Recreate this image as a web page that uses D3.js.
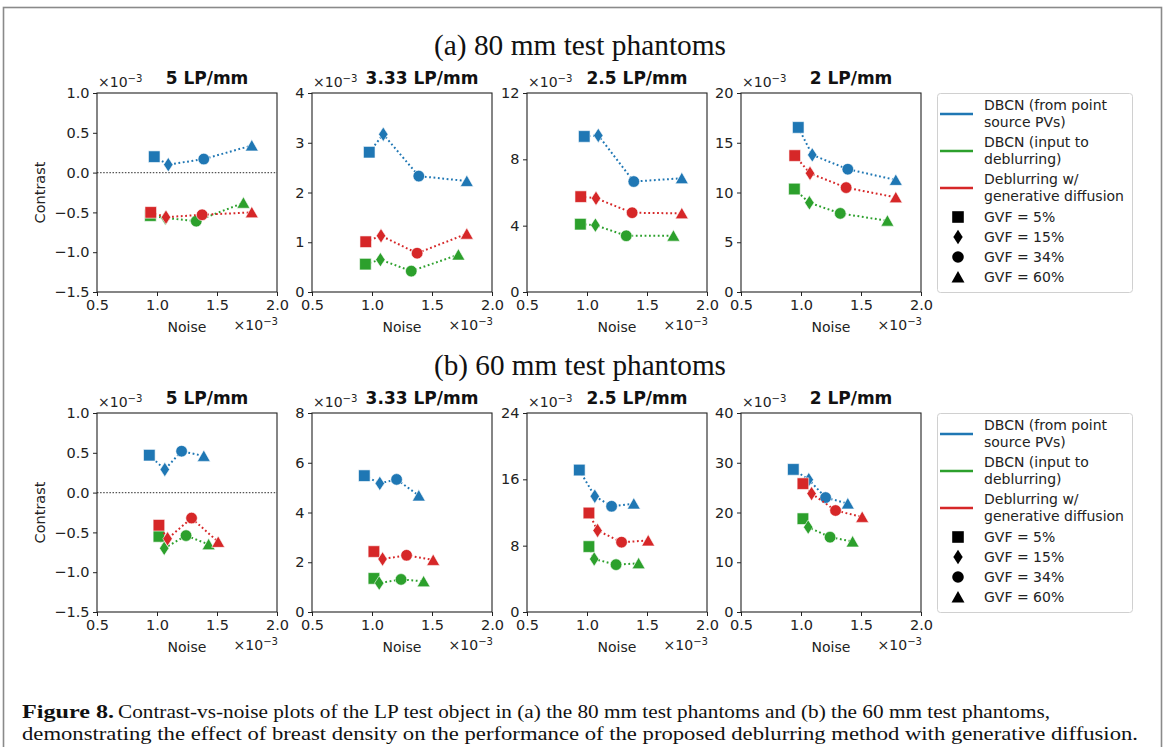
<!DOCTYPE html>
<html>
<head>
<meta charset="utf-8">
<script src="https://cdn.jsdelivr.net/npm/d3@7"></script>
<style>
  html, body { margin: 0; padding: 0; background: #fff; }
  svg { display: block; }
</style>
</head>
<body>
<svg id="fig" width="1166" height="747"></svg>
<script>
// ---- Data (contrast and noise in units of 1e-3) ----
const lpLabels = ["5 LP/mm", "3.33 LP/mm", "2.5 LP/mm", "2 LP/mm"];
const phantomTitles = ["(a) 80 mm test phantoms", "(b) 60 mm test phantoms"];
const methodNames = [
  ["DBCN (from point", "source PVs)"],
  ["DBCN (input to", "deblurring)"],
  ["Deblurring w/", "generative diffusion"]
];
const methodColors = ["#1f77b4", "#2ca02c", "#d62728"];
const gvfLabels = ["GVF = 5%", "GVF = 15%", "GVF = 34%", "GVF = 60%"];
const gvfShapes = ["square", "diamond", "circle", "triangle"];

// noise per method (blue, green, red) and GVF
const noise80Blue  = [0.977, 1.094, 1.390, 1.790];
const noise80Green = [0.945, 1.070, 1.327, 1.720];
const noise80Red   = [0.948, 1.075, 1.376, 1.790];
const noise60Blue  = [0.936, 1.065, 1.205, 1.390];
const noise60Green = [1.016, 1.060, 1.242, 1.430];
const noise60Red   = [1.016, 1.088, 1.288, 1.510];

// contrast, 80 mm phantoms
const c80_5LP    = { blue: [0.20, 0.10, 0.17, 0.34],   green: [-0.54, -0.57, -0.61, -0.38], red: [-0.50, -0.56, -0.53, -0.50] };
const c80_333LP  = { blue: [2.81, 3.17, 2.33, 2.23],   green: [0.56, 0.65, 0.42, 0.75],     red: [1.01, 1.13, 0.78, 1.17] };
const c80_25LP   = { blue: [9.38, 9.44, 6.66, 6.86],   green: [4.09, 4.03, 3.39, 3.39],     red: [5.75, 5.65, 4.78, 4.74] };
const c80_2LP    = { blue: [16.54, 13.78, 12.34, 11.26], green: [10.35, 8.97, 7.90, 7.16], red: [13.71, 11.93, 10.49, 9.51] };
// contrast, 60 mm phantoms
const c60_5LP    = { blue: [0.47, 0.29, 0.52, 0.46],   green: [-0.55, -0.70, -0.54, -0.65], red: [-0.41, -0.58, -0.32, -0.62] };
const c60_333LP  = { blue: [5.48, 5.17, 5.33, 4.68],   green: [1.35, 1.16, 1.31, 1.23],     red: [2.43, 2.13, 2.28, 2.09] };
const c60_25LP   = { blue: [17.12, 13.96, 12.75, 13.07], green: [7.89, 6.39, 5.71, 5.87],   red: [11.94, 9.83, 8.42, 8.62] };
const c60_2LP    = { blue: [28.66, 26.6, 23.0, 21.8],  green: [18.75, 17.06, 15.04, 14.16], red: [25.8, 23.8, 20.4, 19.1] };

const xTicks = [0.5, 1.0, 1.5, 2.0];
const yDomains80 = [[-1.5, 1.0], [0, 4], [0, 12], [0, 20]];
const yDomains60 = [[-1.5, 1.0], [0, 8], [0, 24], [0, 40]];
const yTicks80 = [[-1.5, -1.0, -0.5, 0.0, 0.5, 1.0], [0, 1, 2, 3, 4], [0, 4, 8, 12], [0, 5, 10, 15, 20]];
const yTicks60 = [[-1.5, -1.0, -0.5, 0.0, 0.5, 1.0], [0, 2, 4, 6, 8], [0, 8, 16, 24], [0, 10, 20, 30, 40]];

const captionBold = "Figure 8.";
const captionLine1 = "Contrast-vs-noise plots of the LP test object in (a) the 80 mm test phantoms and (b) the 60 mm test phantoms,";
const captionLine2 = "demonstrating the effect of breast density on the performance of the proposed deblurring method with generative diffusion.";

// ---- Layout ----
const rows = [
  { title: phantomTitles[0], top: 93, noise: [noise80Blue, noise80Green, noise80Red],
    panels: [c80_5LP, c80_333LP, c80_25LP, c80_2LP], domains: yDomains80, ticks: yTicks80 },
  { title: phantomTitles[1], top: 413, noise: [noise60Blue, noise60Green, noise60Red],
    panels: [c60_5LP, c60_333LP, c60_25LP, c60_2LP], domains: yDomains60, ticks: yTicks60 }
];
const panelLefts = [97, 312, 527, 741];
const panelW = 180, panelH = 199;
const sans = "'DejaVu Sans', sans-serif";
const serif = "'Liberation Serif', 'Times New Roman', serif";

const svg = d3.select("#fig");
svg.append("rect").attr("x", 0).attr("y", 0).attr("width", 1166).attr("height", 747).attr("fill", "#fff");
// figure frame
svg.append("rect").attr("x", 3.5).attr("y", 7.5).attr("width", 1158).attr("height", 780)
  .attr("fill", "none").attr("stroke", "#8a8a8a").attr("stroke-width", 1.6);

function markerPath(shape) {
  const p = d3.path();
  if (shape === "square") { p.rect(-5.8, -5.8, 11.6, 11.6); }
  else if (shape === "diamond") { p.moveTo(0, -7.2); p.lineTo(4.7, 0); p.lineTo(0, 7.2); p.lineTo(-4.7, 0); p.closePath(); }
  else if (shape === "circle") { p.arc(0, 0, 5.8, 0, 2 * Math.PI); p.closePath(); }
  else { p.moveTo(0, -6); p.lineTo(6.5, 5.4); p.lineTo(-6.5, 5.4); p.closePath(); }
  return p.toString();
}

function superTimes(sel) {
  sel.append("tspan").text("×10");
  sel.append("tspan").attr("font-size", "0.72em").attr("dy", "-0.48em").text("−3");
}

rows.forEach(row => {
  svg.append("text")
    .attr("x", 580).attr("y", row.top - 38)
    .attr("text-anchor", "middle")
    .attr("font-family", serif).attr("font-size", 29)
    .attr("textLength", 292).attr("lengthAdjust", "spacingAndGlyphs")
    .attr("fill", "#111")
    .text(row.title);

  row.panels.forEach((vals, pi) => {
    const left = panelLefts[pi], top = row.top;
    const x = d3.scaleLinear().domain([0.5, 2.0]).range([left, left + panelW]);
    const y = d3.scaleLinear().domain(row.domains[pi]).range([top + panelH, top]);
    const g = svg.append("g");
    const isFine = pi === 0;
    const fmt = isFine ? d3.format(".1f") : d3.format("d");

    if (isFine) {
      g.append("line")
        .attr("x1", x(0.5)).attr("x2", x(2.0)).attr("y1", y(0)).attr("y2", y(0))
        .attr("stroke", "#555").attr("stroke-width", 1.1).attr("stroke-dasharray", "1.5,1.6");
    }

    const series = [vals.blue, vals.green, vals.red];
    series.forEach((ys, si) => {
      const pts = ys.map((v, k) => [row.noise[si][k], v]);
      g.append("path")
        .attr("d", d3.line().x(d => x(d[0])).y(d => y(d[1]))(pts))
        .attr("fill", "none").attr("stroke", methodColors[si])
        .attr("stroke-width", 2).attr("stroke-dasharray", "1.8,2.6");
      pts.forEach((d, k) => {
        g.append("path")
          .attr("d", markerPath(gvfShapes[k]))
          .attr("transform", `translate(${x(d[0])},${y(d[1])})`)
          .attr("fill", methodColors[si])
          .attr("stroke", "#fff").attr("stroke-width", 0.6);
      });
    });

    // axes
    const ax = g.append("g").attr("transform", `translate(0,${top + panelH})`)
      .call(d3.axisBottom(x).tickValues(xTicks).tickFormat(d3.format(".1f")).tickSize(4).tickPadding(3.5));
    const ay = g.append("g").attr("transform", `translate(${left},0)`)
      .call(d3.axisLeft(y).tickValues(row.ticks[pi]).tickFormat(fmt).tickSize(4).tickPadding(3.5));
    [ax, ay].forEach(a => {
      a.selectAll("text").attr("font-family", sans).attr("font-size", 14.5).attr("fill", "#222");
      a.selectAll("line").attr("stroke", "#222").attr("stroke-width", 1);
      a.select(".domain").remove();
    });
    g.append("rect").attr("x", left).attr("y", top).attr("width", panelW).attr("height", panelH)
      .attr("fill", "none").attr("stroke", "#222").attr("stroke-width", 1.1);

    // offset labels, titles
    g.append("text").attr("x", left + 1).attr("y", top - 6)
      .attr("font-family", sans).attr("font-size", 14).attr("fill", "#222").call(superTimes);
    g.append("text").attr("x", left + panelW + 1).attr("y", top + panelH + 38)
      .attr("text-anchor", "end")
      .attr("font-family", sans).attr("font-size", 14).attr("fill", "#222").call(superTimes);
    g.append("text").attr("x", left + panelW / 2 + 20).attr("y", top - 9)
      .attr("text-anchor", "middle")
      .attr("font-family", sans).attr("font-weight", "bold").attr("font-size", 17).attr("fill", "#111")
      .text(lpLabels[pi]);
    g.append("text").attr("x", left + panelW / 2).attr("y", top + panelH + 40)
      .attr("text-anchor", "middle")
      .attr("font-family", sans).attr("font-size", 14).attr("fill", "#222").text("Noise");
    if (pi === 0) {
      g.append("text")
        .attr("transform", `translate(45,${top + panelH / 2}) rotate(-90)`)
        .attr("text-anchor", "middle")
        .attr("font-family", sans).attr("font-size", 14.5).attr("fill", "#222").text("Contrast");
    }
  });

  // legend
  const lg = svg.append("g").attr("transform", `translate(937,${row.top})`);
  lg.append("rect").attr("x", 0.5).attr("y", 0.5).attr("width", 195).attr("height", 199).attr("rx", 3)
    .attr("fill", "#fff").attr("stroke", "#d0d0d0").attr("stroke-width", 1);
  const entryTop = [12, 49, 86];
  methodNames.forEach((lines, i) => {
    lg.append("line").attr("x1", 3).attr("x2", 36)
      .attr("y1", entryTop[i] + 9).attr("y2", entryTop[i] + 9)
      .attr("stroke", methodColors[i]).attr("stroke-width", 2.6);
    lines.forEach((t, j) => {
      lg.append("text").attr("x", 47).attr("y", entryTop[i] + j * 16.5).attr("dy", "0.36em")
        .attr("font-family", sans).attr("font-size", 14).attr("fill", "#222").text(t);
    });
  });
  gvfLabels.forEach((t, k) => {
    const yy = 124 + k * 20;
    lg.append("path").attr("d", markerPath(gvfShapes[k]))
      .attr("transform", `translate(21,${yy})`).attr("fill", "#000");
    lg.append("text").attr("x", 47).attr("y", yy).attr("dy", "0.36em")
      .attr("font-family", sans).attr("font-size", 14).attr("fill", "#222").text(t);
  });
});

// caption
const cap = svg.append("g").attr("font-family", serif).attr("fill", "#111");
cap.append("text").attr("x", 22).attr("y", 718).attr("font-size", 18).attr("font-weight", "bold")
  .attr("textLength", 92).attr("lengthAdjust", "spacingAndGlyphs").text(captionBold);
cap.append("text").attr("x", 118).attr("y", 718).attr("font-size", 18)
  .attr("textLength", 932).attr("lengthAdjust", "spacingAndGlyphs").text(captionLine1);
cap.append("text").attr("x", 22).attr("y", 740).attr("font-size", 18)
  .attr("textLength", 1116).attr("lengthAdjust", "spacingAndGlyphs").text(captionLine2);
</script>
</body>
</html>
